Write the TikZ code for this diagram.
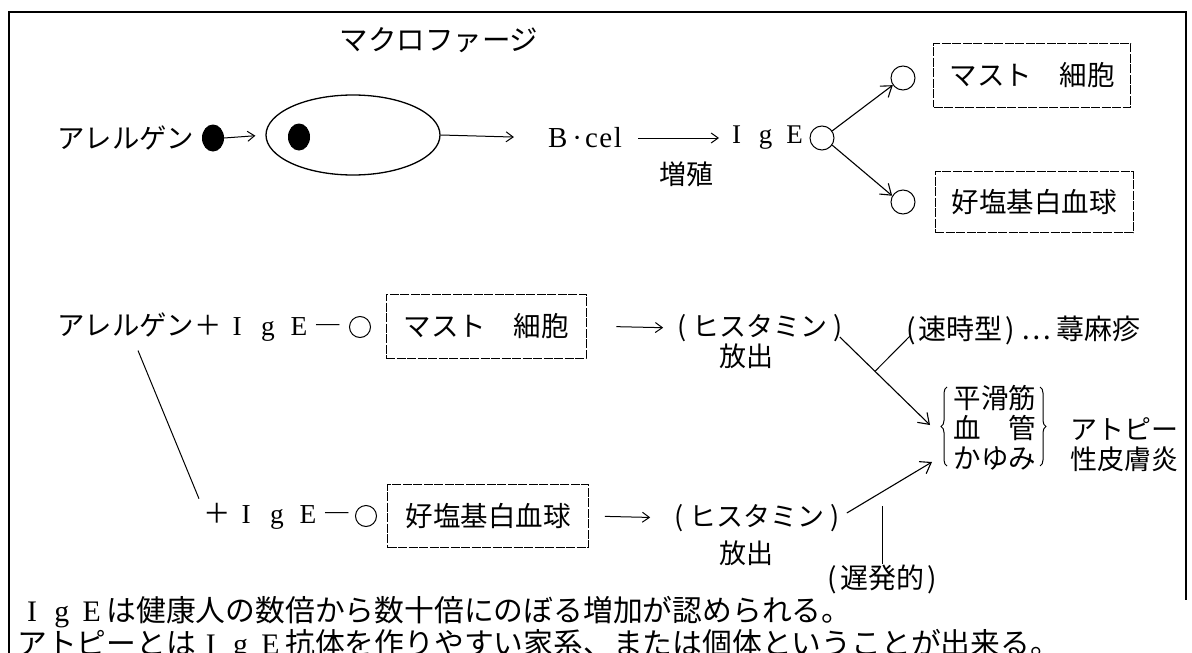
\documentclass[tikz,border=0pt]{standalone}
\usepackage{fontspec}
\setmainfont{Noto Sans CJK JP}
\newfontfamily\lat{Liberation Serif}
\usetikzlibrary{arrows.meta,shapes.geometric,calc,decorations.pathreplacing}
\newcommand\lig[1]{{\lat\makebox[#1]{I}\makebox[#1]{g}\makebox[#1]{E}}}
\tikzset{
  txt/.style={inner sep=0pt, font=\fontsize{27}{30}\selectfont},
  cellbox/.style={draw, line width=0.9pt, dash pattern=on 9pt off 1.5pt, minimum width=200pt, minimum height=64pt, inner sep=0pt, font=\fontsize{27.5}{30}\selectfont},
  arr/.style={line width=1pt, -{Straight Barb[length=7pt,width=10pt]}},
  bigarr/.style={line width=1.1pt, -{Straight Barb[length=10pt,width=14pt]}},
  ln/.style={line width=1pt},
  ring/.style={draw, circle, line width=1pt, minimum size=24pt, inner sep=0pt},
  smallring/.style={draw, circle, line width=1pt, minimum size=21pt, inner sep=0pt},
  blob/.style={fill, ellipse, minimum width=22pt, minimum height=27pt, inner sep=0pt},
}
\begin{document}
\begin{tikzpicture}[x=1pt,y=-1pt]
\useasboundingbox (0,0) rectangle (1192,653);
% frame
\draw[line width=1.3pt] (9,653) -- (9,12) -- (1186,12) -- (1186,600);

% ---- top row ----
\node[txt, font=\fontsize{28.5}{30}\selectfont] (macro) at (439,40) {マクロファージ};
\node[txt, anchor=west, font=\fontsize{27.4}{30}\selectfont] (all1) at (57,138) {アレルゲン};
\node[blob] (dot1) at (213,138) {};
\node[draw, ellipse, line width=1.3pt, minimum width=174pt, minimum height=80pt] (cell) at (353,135) {};
\node[blob] (dot2) at (299,137) {};
\node[txt, font=\fontsize{29}{30}\selectfont\lat] (bc) at (585,138) {B\hspace{5pt}·\hspace{3pt}c\hspace{1.5pt}e\hspace{1.5pt}l};
\node[txt, anchor=west] (ige) at (722,138) {\lig{29pt}};
\node[smallring, minimum size=24pt] (c0) at (822,138) {};
\node[txt] (zo) at (686,174) {増殖};
\node[ring] (c1) at (903,78) {};
\node[ring] (c2) at (903,202) {};
\node[cellbox, minimum width=197pt] (mast1) at (1032,75) {マスト\hspace{1em}細胞};
\node[cellbox, minimum width=198pt, minimum height=61pt] (baso1) at (1034,202) {好塩基白血球};

\draw[arr, shorten >=10pt] (dot1.east) -- (cell.west);
\draw[arr, shorten >=34pt] (cell.east) -- (bc.west);
\draw[arr, shorten <=16pt, shorten >=3pt] (bc.east) -- (ige.west);
\draw[bigarr] (c0.35) -- (c1.215);
\draw[bigarr] (c0.-35) -- (c2.150);

% ---- middle row ----
\node[smallring] (c3) at (360,327) {};
\node[txt, anchor=west, font=\fontsize{27.4}{30}\selectfont] (r2) at (57,327) {アレルゲン＋\lig{31pt}―};
\node[cellbox] (mast2) at (486,326) {マスト\hspace{1em}細胞};
\node[txt] (his1) at (760,328) {(\hspace{6pt}ヒスタミン\hspace{6pt})};
\node[txt] (ho1) at (746,356) {放出};
\node[txt, anchor=west, font=\fontsize{28}{30}\selectfont] (sok) at (906,330) {(\hspace{3pt}速時型\hspace{3pt})\hspace{6pt}…\hspace{6pt}蕁麻疹};
\draw[arr, shorten <=30pt, shorten >=14pt] (mast2.east) -- (his1.west);

% ---- lower row ----
\node[smallring] (c4) at (366,516) {};
\node[txt, anchor=west, font=\fontsize{27.4}{30}\selectfont] (r3) at (203,516) {＋\lig{31pt}―};
\node[cellbox, minimum width=201pt, minimum height=63pt] (baso2) at (488,516) {好塩基白血球};
\node[txt] (his2) at (757,518) {(\hspace{6pt}ヒスタミン\hspace{6pt})};
\node[txt] (ho2) at (746,553) {放出};
\node[txt, font=\fontsize{28}{30}\selectfont] (chi) at (882,579) {(\hspace{3pt}遅発的\hspace{3pt})};
\draw[arr, shorten <=16pt, shorten >=24pt] (baso2.east) -- (his2.west);

% ---- brace group ----
\node[txt, align=center, font=\fontsize{27.5}{30}\selectfont] (grp) at (995,428) {平滑筋\\血\hspace{1em}管\\かゆみ};
\node[txt, align=left, anchor=west, font=\fontsize{27}{30}\selectfont] (atp) at (1070,445) {アトピー\\性皮膚炎};
\draw[line width=1pt, decorate, decoration={brace, amplitude=6pt}] (947,466) -- (947,387);
\draw[line width=1pt, decorate, decoration={brace, amplitude=6pt}] (1040,387) -- (1040,466);
\coordinate (inU) at (930,425);
\coordinate (inL) at (932,462);

% connectors
\coordinate (hU) at ($(his1.east)+(-3,9)$);
\draw[bigarr] (hU) -- (inU);
\coordinate (br) at ($(hU)!0.39!(inU)$);
\draw[ln] (br) -- ($(sok.west)+(4,6)$);
\coordinate (hL) at ($(his2.east)+(7,-5)$);
\draw[bigarr] (hL) -- (inL);
\draw[ln] (chi.north) -- ($(chi.north)+(0,-58)$);
\draw[ln] ($(r2.south west)+(81,9)$) -- ($(r3.north west)+(-4,-4)$);

% ---- bottom text ----
\node[txt, anchor=west, font=\fontsize{29.8}{30}\selectfont] (t1) at (17,612) {\lig{29.8pt}は健康人の数倍から数十倍にのぼる増加が認められる。};
\node[txt, anchor=west, font=\fontsize{29.8}{30}\selectfont] (t2) at (17,645) {アトピーとは\lig{29.8pt}抗体を作りやすい家系、または個体ということが出来る。};
\end{tikzpicture}
\end{document}
